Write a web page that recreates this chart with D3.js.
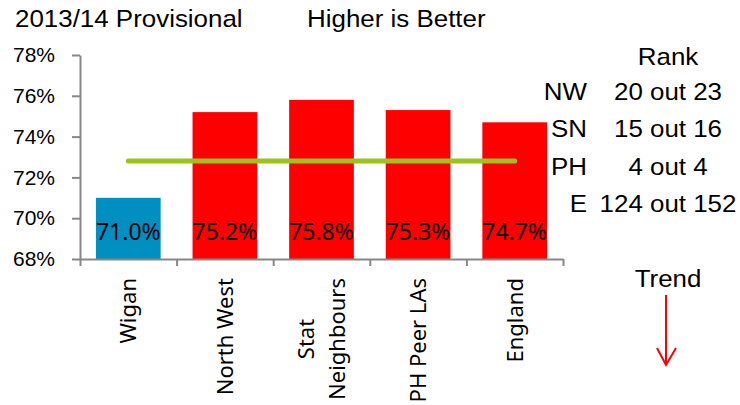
<!DOCTYPE html>
<html>
<head>
<meta charset="utf-8">
<script src="https://cdn.jsdelivr.net/npm/d3@7"></script>
<style>
    body { margin: 0; background: #fff; }
    #chart { width: 740px; height: 405px; }
    .axis path, .axis line { stroke: #878787; stroke-width: 2; }
    .axis text { font-family: "Liberation Sans", Arial, sans-serif; font-size: 21px; fill: #000; }
    .arial { font-family: "Liberation Sans", Arial, sans-serif; font-size: 24px; fill: #000; }
    .calib { font-family: "Noto Sans", sans-serif; fill: #000; }
</style>
</head>
<body>
<div id="chart"></div>
<script>
//chart values
const categories = ["Wigan", "North West", "Stat Neighbours", "PH Peer LAs", "England"];
const labelLines = [["Wigan"], ["North West"], ["Stat", "Neighbours"], ["PH Peer LAs"], ["England"]];
const values = [71.0, 75.2, 75.8, 75.3, 74.7];
const targetValue = 72.8;
const yTicks = [68, 70, 72, 74, 76, 78];
const rankGroups = ["NW", "SN", "PH", "E"];
const rankValues = ["20 out 23", "15 out 16", "4 out 4", "124 out 152"];

const width = 740;
const height = 405;
const margin = { top: 55, left: 80, right: 177, bottom: 146 };

const svg = d3.select("#chart")
    .append("svg")
    .attr("width", width)
    .attr("height", height);

//scales
const xScale = d3.scaleBand()
    .domain(categories)
    .range([margin.left, width - margin.right])
    .paddingInner(0.33)
    .paddingOuter(0.165);

const yScale = d3.scaleLinear()
    .domain([68, 78])
    .range([height - margin.bottom, margin.top]);

//boundary scale so the x ticks sit between the categories
const edgeScale = d3.scaleLinear()
    .domain([0, categories.length])
    .range([margin.left, width - margin.right]);

//text in the original is slightly wide, so stretch it a little
const stretch = 1.08;
function addText(txt, x, y, anchor) {
    return svg.append("text")
        .attr("class", "arial")
        .attr("text-anchor", anchor)
        .attr("transform", `translate(${x},${y}) scale(${stretch},1)`)
        .text(txt);
}

//bars
svg.selectAll(".bar")
    .data(values)
    .enter()
    .append("rect")
    .attr("class", "bar")
    .attr("x", (d, i) => xScale(categories[i]))
    .attr("y", d => yScale(d))
    .attr("width", xScale.bandwidth())
    .attr("height", d => yScale(68) - yScale(d))
    .attr("fill", (d, i) => i === 0 ? "#008fc1" : "#ff0000");

//value labels inside the bars
svg.selectAll(".valueLabel")
    .data(values)
    .enter()
    .append("text")
    .attr("class", "calib")
    .attr("font-size", 23)
    .attr("text-anchor", "middle")
    .attr("x", (d, i) => xScale(categories[i]) + xScale.bandwidth() / 2)
    .attr("y", yScale(68) - 19)
    .text(d => d.toFixed(1) + "%");

//target line from first to last bar centre
const first = categories[0], last = categories[categories.length - 1];
svg.append("line")
    .attr("x1", xScale(first) + xScale.bandwidth() / 2)
    .attr("x2", xScale(last) + xScale.bandwidth() / 2)
    .attr("y1", yScale(targetValue))
    .attr("y2", yScale(targetValue))
    .attr("stroke", "#9bc31c")
    .attr("stroke-width", 5)
    .attr("stroke-linecap", "round");

//axes
svg.append("g")
    .attr("class", "axis")
    .attr("transform", `translate(${margin.left},0)`)
    .call(d3.axisLeft(yScale).tickValues(yTicks).tickFormat(d => d + "%")
        .tickSize(8).tickSizeOuter(0).tickPadding(17));

svg.append("g")
    .attr("class", "axis")
    .attr("transform", `translate(0,${yScale(68)})`)
    .call(d3.axisBottom(edgeScale).tickValues(d3.range(categories.length + 1))
        .tickFormat("").tickSize(7).tickSizeOuter(0));

//rotated category labels, each block top-aligned, lines centred inside the block
labelLines.forEach((lines, i) => {
    const cx = xScale(categories[i]) + xScale.bandwidth() / 2;
    const g = svg.append("g")
        .attr("transform", `translate(${cx},278) rotate(-90)`);
    const texts = lines.map((ln, j) => g.append("text")
        .attr("class", "calib")
        .attr("font-size", 22)
        .attr("text-anchor", "middle")
        .attr("y", (j - (lines.length - 1) / 2) * 31 + 7.8)
        .text(ln));
    const blockLen = d3.max(texts, t => t.node().getComputedTextLength());
    texts.forEach(t => t.attr("x", -blockLen / 2));
});

//titles
addText("2013/14 Provisional", 15, 27, "start");
addText("Higher is Better", 307, 27, "start");

//rank table
addText("Rank", 668, 65, "middle");
rankGroups.forEach((r, i) => {
    const y = 100 + i * 37.3;
    addText(r, 587, y, "end");
    addText(rankValues[i], 668, y, "middle");
});

//trend arrow
addText("Trend", 668, 287, "middle");
svg.append("path")
    .attr("d", "M666,295V365M657,348L666,365L676,348")
    .attr("fill", "none")
    .attr("stroke", "#ff0000")
    .attr("stroke-width", 2);
</script>
</body>
</html>
